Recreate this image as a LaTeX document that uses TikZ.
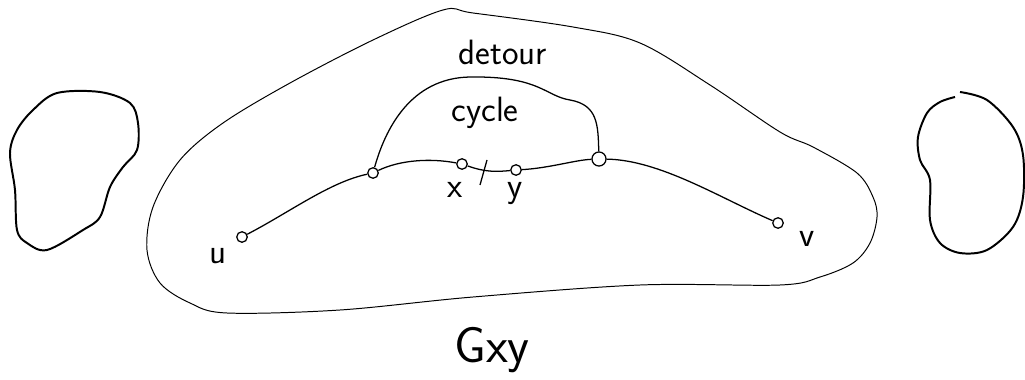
\documentclass[tikz,border=0pt]{standalone}
\usetikzlibrary{positioning}
\begin{document}
\begin{tikzpicture}[x=0.025cm, y=-0.025cm,
  vertex/.style={draw, circle, line width=0.9pt, inner sep=0pt, minimum size=7.5pt},
  bigvertex/.style={vertex, minimum size=10pt},
  lbl/.style={font=\sffamily\fontsize{25}{30}\selectfont},
  biglbl/.style={font=\sffamily\fontsize{36}{40}\selectfont},
  blob/.style={line width=1.4pt},
  region/.style={line width=0.7pt},
  edge/.style={line width=0.9pt},
]
  \useasboundingbox (0,0) rectangle (1025,380);

  % other components
  \draw[blob] plot[smooth cycle, tension=0.55] coordinates {
    (33,110) (57,93) (100,92) (130,103) (138,123) (137,150) (123,167)
    (110,187) (100,217) (83,230) (47,250) (27,243) (17,230) (15,190)
    (10,153) (17,130)};
  \draw[blob] plot[smooth, tension=0.55] coordinates {
    (960,92) (987,100) (1013,127) (1023,155) (1023,197) (1013,227)
    (987,250) (960,253) (940,243) (930,220) (930,180) (920,160)
    (918,137) (927,113) (940,102) (955,97)};

  % the graph G_xy
  \draw[region] plot[smooth cycle, tension=0.55] coordinates {
    (443,10) (473,13) (573,27) (640,43) (710,85) (780,132) (813,147)
    (857,173) (873,197) (877,217) (870,243) (853,263) (820,277)
    (780,285) (640,285) (473,297) (340,310) (227,313) (190,303)
    (160,283) (147,250) (153,207) (180,160) (223,123) (290,83) (373,40)};

  % vertices
  \node[vertex] (u) at (242,237) {};
  \node[vertex] (a) at (373,173) {};
  \node[vertex] (x) at (462,164) {};
  \node[vertex] (y) at (516,170) {};
  \node[bigvertex] (b) at (599,159) {};
  \node[vertex] (v) at (778,223) {};

  % path from u to v
  \draw[edge] (u) .. controls (290,212) and (330,182) .. (a);
  \draw[edge] (a) .. controls (400,160) and (430,158) .. (x);
  \draw[edge] (x) .. controls (485,172) and (495,172) .. (y);
  \draw[edge] (y) .. controls (550,168) and (575,160) .. (b);
  \draw[edge] (b) .. controls (660,160) and (720,198) .. (v);

  % detour around the removed edge
  \draw[edge] (a) .. controls (385,130) and (410,78) .. (470,77)
    .. controls (540,76) and (545,96) .. (570,100)
    .. controls (598,105) and (598,125) .. (b);

  % cut of xy
  \draw[edge] (487,160) -- (480,185);

  % labels
  \node[lbl] (tdetour) at (503,52) {detour};
  \node[lbl] (tcycle) at (485,113) {cycle};
  \node[lbl] (tx) at (455,190) {x};
  \node[lbl] (ty) at (515,194) {y};
  \node[lbl] (tu) at (218,256) {u};
  \node[lbl] (tv) at (807,239) {v};
  \node[biglbl] (tg) at (492,350) {Gxy};
\end{tikzpicture}
\end{document}
